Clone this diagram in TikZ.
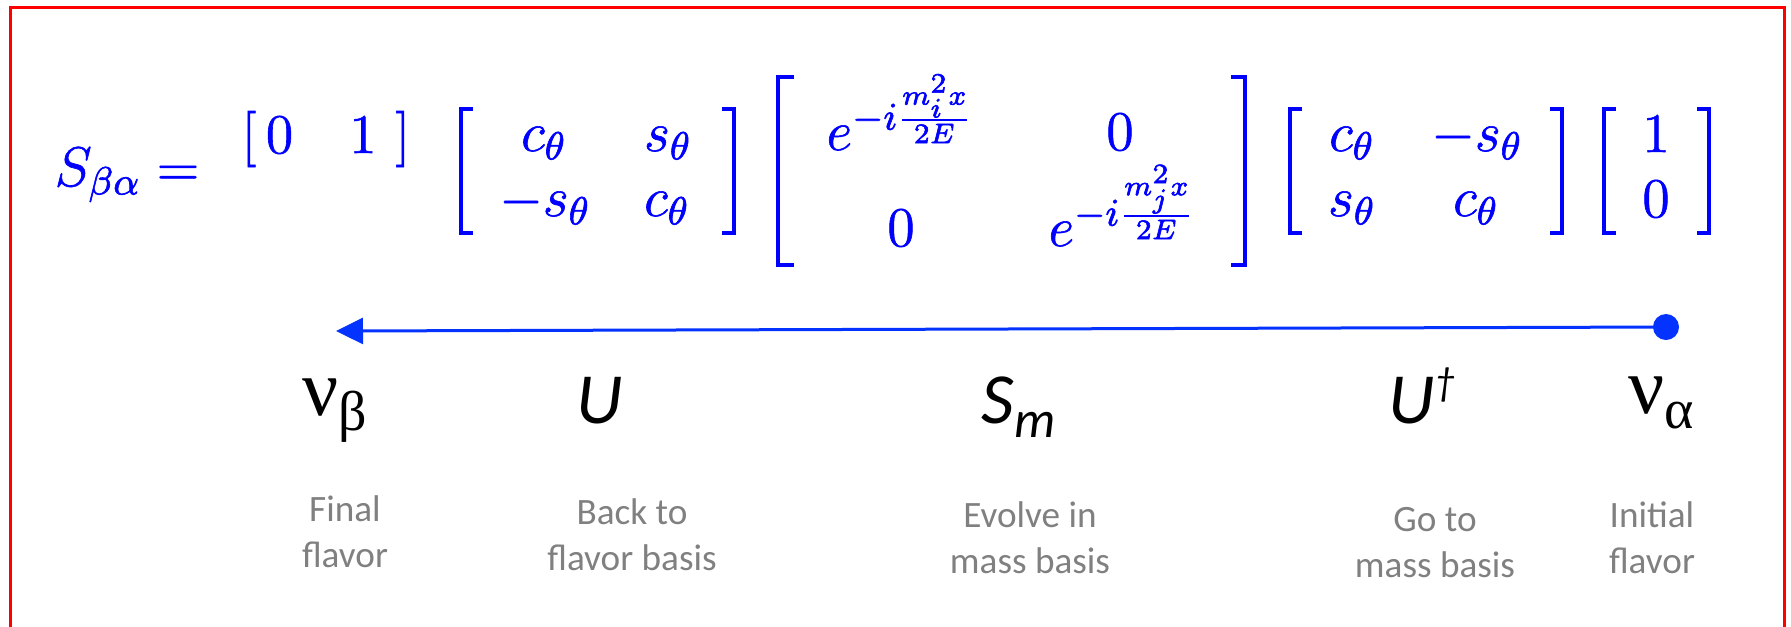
\RequirePackage{fix-cm}
\documentclass[tikz,border=0pt]{standalone}
\usepackage{fontspec}
\usetikzlibrary{arrows.meta}
\newfontfamily\calib{Carlito}
\newfontfamily\lserif{Liberation Serif}
\definecolor{arrowblue}{RGB}{4,51,255}
\definecolor{capgray}{RGB}{128,128,128}
\newcommand\fakeboldon{\special{pdf:literal direct 0.15 w 2 Tr}}
\newcommand\fakeboldoff{\special{pdf:literal direct 0 Tr}}
\tikzset{
  mathnode/.style={inner sep=0pt, text=blue, font=\fontsize{14}{16.8}\selectfont, anchor=base,
    execute at begin node=\fakeboldon, execute at end node=\fakeboldoff},
  brk/.style={draw=blue, line width=1.1pt, line cap=butt, line join=miter},
  symlabel/.style={inner sep=0pt, text=black, anchor=base west},
  caption/.style={inner sep=0pt, text=capgray, align=center, anchor=base, font=\calib\fontsize{9.3}{11.5}\selectfont},
  flow/.style={arrowblue, line width=0.75pt, -{Triangle[length=6.75pt,width=6.5pt]}},
}
\begin{document}
\begin{tikzpicture}[x=0.25pt,y=-0.25pt]
\useasboundingbox (0,0) rectangle (1791,626);
\clip (0,0) rectangle (1791,626);
\draw[red, line width=0.75pt] (10.5,7.5) rectangle (1784.5,700);
% left-hand side and row vector
\node[mathnode, anchor=base west] (lhs) at (54,186) {$S_{\beta\alpha} =$};
\node[mathnode] (rv) at (326,153) {$[\,0\quad 1\,\,]$};
% U matrix
\draw[brk] (473,109) -- (461,109) -- (461,233) -- (473,233);
\draw[brk] (722,109) -- (734,109) -- (734,233) -- (722,233);
\node[mathnode] (u11) at (544,151) {$c_\theta$};
\node[mathnode] (u12) at (668,151) {$s_\theta$};
\node[mathnode] (u21) at (545,216) {$-s_\theta$};
\node[mathnode] (u22) at (667,216) {$c_\theta$};
% S_m matrix
\draw[brk] (794,77) -- (778,77) -- (778,265) -- (794,265);
\draw[brk] (1231,77) -- (1245,77) -- (1245,265) -- (1231,265);
\node[mathnode] (s11) at (900,150) {$e^{-i\frac{m_i^2x}{2E}}$};
\node[mathnode] (s12) at (1120,150) {$0$};
\node[mathnode] (s21) at (901,246) {$0$};
\node[mathnode] (s22) at (1122,246) {$e^{-i\frac{m_j^2x}{2E}}$};
% U dagger matrix
\draw[brk] (1302,109) -- (1290,109) -- (1290,233) -- (1302,233);
\draw[brk] (1550,109) -- (1562,109) -- (1562,233) -- (1550,233);
\node[mathnode] (d11) at (1352,151) {$c_\theta$};
\node[mathnode] (d12) at (1477,151) {$-s_\theta$};
\node[mathnode] (d21) at (1352,216) {$s_\theta$};
\node[mathnode] (d22) at (1476,216) {$c_\theta$};
% column vector
\draw[brk] (1616,109) -- (1604,109) -- (1604,233) -- (1616,233);
\draw[brk] (1697,109) -- (1709,109) -- (1709,233) -- (1697,233);
\node[mathnode] (v1) at (1656,152) {$1$};
\node[mathnode] (v2) at (1656,217) {$0$};
% arrow
\node[circle, fill=arrowblue, minimum size=6.5pt, inner sep=0pt] (dot) at (1666,327) {};
\coordinate (tip) at (336,331);
\draw[flow] (dot.center) -- (tip);
% symbols
\node[symlabel] (nub) at (302,415) {\lserif\fontsize{20}{24}\selectfont ν\raisebox{-3.75pt}{\fontsize{14}{16}\selectfont β}};
\node[symlabel] (U) at (576,423) {\calib\itshape\fontsize{18}{22}\selectfont U};
\node[symlabel] (Sm) at (981,423) {\calib\itshape\fontsize{18}{22}\selectfont S\raisebox{-3.5pt}{\fontsize{13}{15}\selectfont m}};
\node[symlabel] (Ud) at (1388,423) {\calib\itshape\fontsize{18}{22}\selectfont U\raisebox{7pt}{\fontsize{10}{12}\selectfont †}};
\node[symlabel] (nua) at (1628,413) {\lserif\fontsize{20}{24}\selectfont ν\raisebox{-3.75pt}{\fontsize{14}{16}\selectfont α}};
% captions (base anchor = last line)
\node[caption] (c1) at (345,567) {Final\\flavor};
\node[caption] (c2) at (632,570) {Back to\\flavor basis};
\node[caption] (c3) at (1030,573) {Evolve in\\mass basis};
\node[caption] (c4) at (1435,577) {Go to\\mass basis};
\node[caption] (c5) at (1652,573) {Initial\\flavor};
\end{tikzpicture}
\end{document}
